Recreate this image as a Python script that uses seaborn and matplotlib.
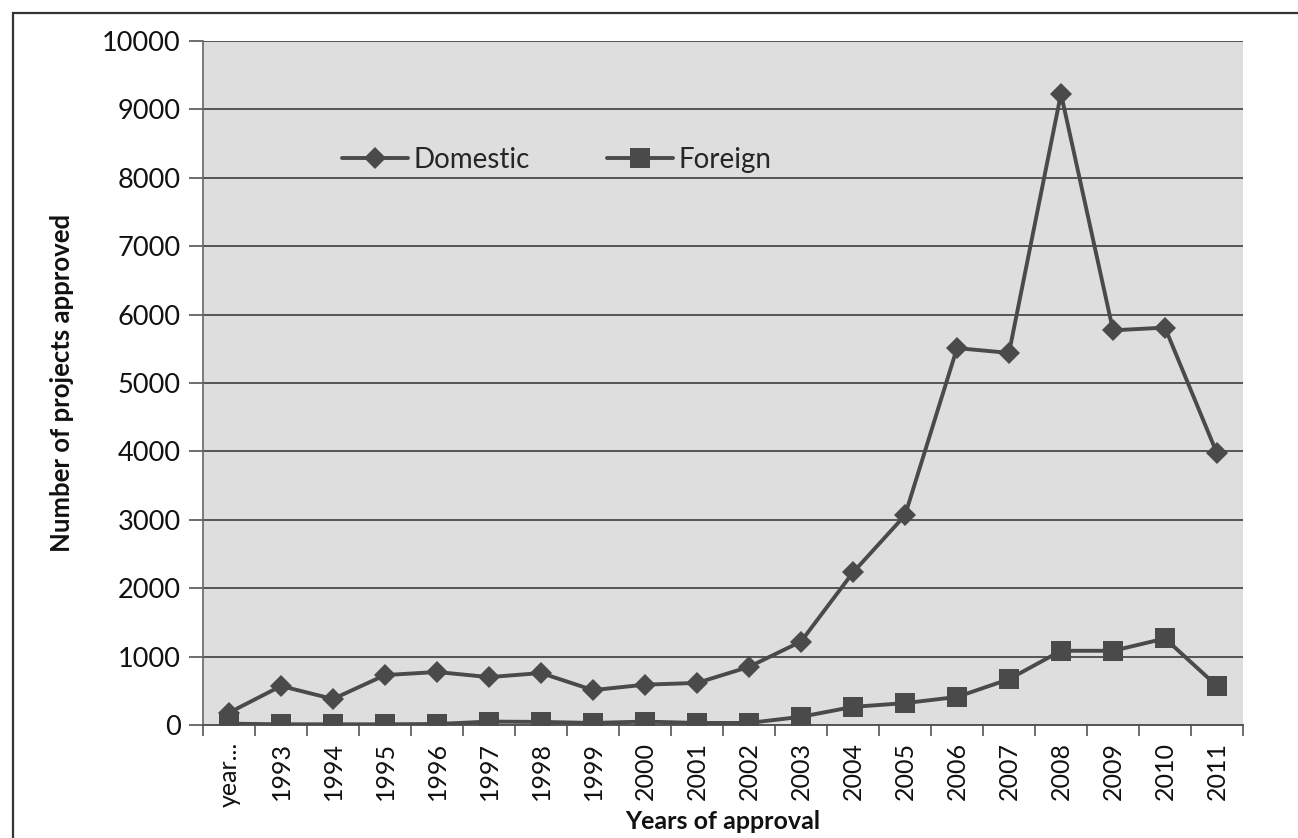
import matplotlib
matplotlib.use("Agg")
import matplotlib.pyplot as plt
from matplotlib.patches import Rectangle
from matplotlib.lines import Line2D
import seaborn as sns
import pandas as pd
import numpy as np

# Approval years (first category label is truncated in the source table)
years = ["year...", "1993", "1994", "1995", "1996", "1997", "1998", "1999", "2000",
         "2001", "2002", "2003", "2004", "2005", "2006", "2007", "2008", "2009",
         "2010", "2011"]
domestic = [180, 570, 380, 730, 775, 700, 760, 510, 590, 615, 850, 1220, 2230,
            3065, 5510, 5440, 9230, 5770, 5810, 3970]
foreign = [20, 10, 10, 10, 15, 50, 45, 30, 50, 30, 30, 120, 265, 320, 410, 670,
           1085, 1085, 1265, 570]
series_names = ["Domestic", "Foreign"]
y_ticks = [0, 1000, 2000, 3000, 4000, 5000, 6000, 7000, 8000, 9000, 10000]

df = pd.DataFrame({
    "pos": list(range(len(years))) * 2,
    "value": domestic + foreign,
    "series": [series_names[0]] * len(years) + [series_names[1]] * len(years),
})

sns.set_theme(style="white")
plt.rcParams["font.family"] = ["Lato", "DejaVu Sans"]

ink = "#4a4a4a"
fig = plt.figure(figsize=(12.98, 8.38), dpi=100)
ax = fig.add_axes([203 / 1298, 1 - 725 / 838, 1040 / 1298, (725 - 41) / 838])
ax.set_facecolor("#dedede")

sns.lineplot(data=df, x="pos", y="value", hue="series", style="series",
             palette={"Domestic": ink, "Foreign": ink},
             markers={"Domestic": "D", "Foreign": "s"},
             dashes=False, linewidth=2.8, markeredgewidth=0,
             ax=ax, legend=False, zorder=3)
# marker sizes per series
for line, ms in zip(ax.lines, [11, 15]):
    line.set_markersize(ms)

ax.set_xlim(-0.5, len(years) - 0.5)
ax.set_ylim(0, 10000)
ax.set_yticks(y_ticks)
ax.set_yticklabels([str(t) for t in y_ticks], fontsize=19.5, color="#111111")
ax.set_xticks(range(len(years)))
ax.set_xticklabels(years, rotation=90, fontsize=18, color="#111111")
ax.set_xticks(np.arange(-0.5, len(years), 1.0), minor=True)
ax.tick_params(axis="x", which="major", length=0, pad=12)
ax.tick_params(axis="x", which="minor", length=8, width=1.2, color="#555555",
               direction="out", bottom=True)
ax.tick_params(axis="y", which="major", length=10, width=1.2, color="#555555",
               direction="out", left=True, pad=6)

ax.grid(axis="y", color="#555555", linewidth=1.4, zorder=1)
ax.grid(axis="x", visible=False)
for side in ["top", "right"]:
    ax.spines[side].set_visible(False)
ax.spines["left"].set_color("#666666")
ax.spines["left"].set_linewidth(1.2)
ax.spines["bottom"].set_color("#555555")
ax.spines["bottom"].set_linewidth(1.4)

ax.set_xlabel("Years of approval", fontsize=18, fontweight="bold", color="#111111",
              labelpad=2)
ax.set_ylabel("Number of projects approved", fontsize=18.5, fontweight="bold",
              color="#111111", labelpad=20)

handles = [
    Line2D([], [], color=ink, linewidth=2.8, marker="D", markersize=11,
           markeredgewidth=0),
    Line2D([], [], color=ink, linewidth=2.8, marker="s", markersize=15,
           markeredgewidth=0),
]
ax.legend(handles, series_names, loc="center left", bbox_to_anchor=(0.11, 0.826),
          ncol=2, frameon=False, fontsize=20, handlelength=2.35,
          handletextpad=0.2, columnspacing=2.8)

# outer chart border
fig.add_artist(Rectangle((13 / 1298, -0.05), 1.2, 1 - 13 / 838 + 0.05,
                         transform=fig.transFigure, fill=False,
                         edgecolor="#333333", linewidth=1.6))

fig.savefig("out.png", dpi=100)
